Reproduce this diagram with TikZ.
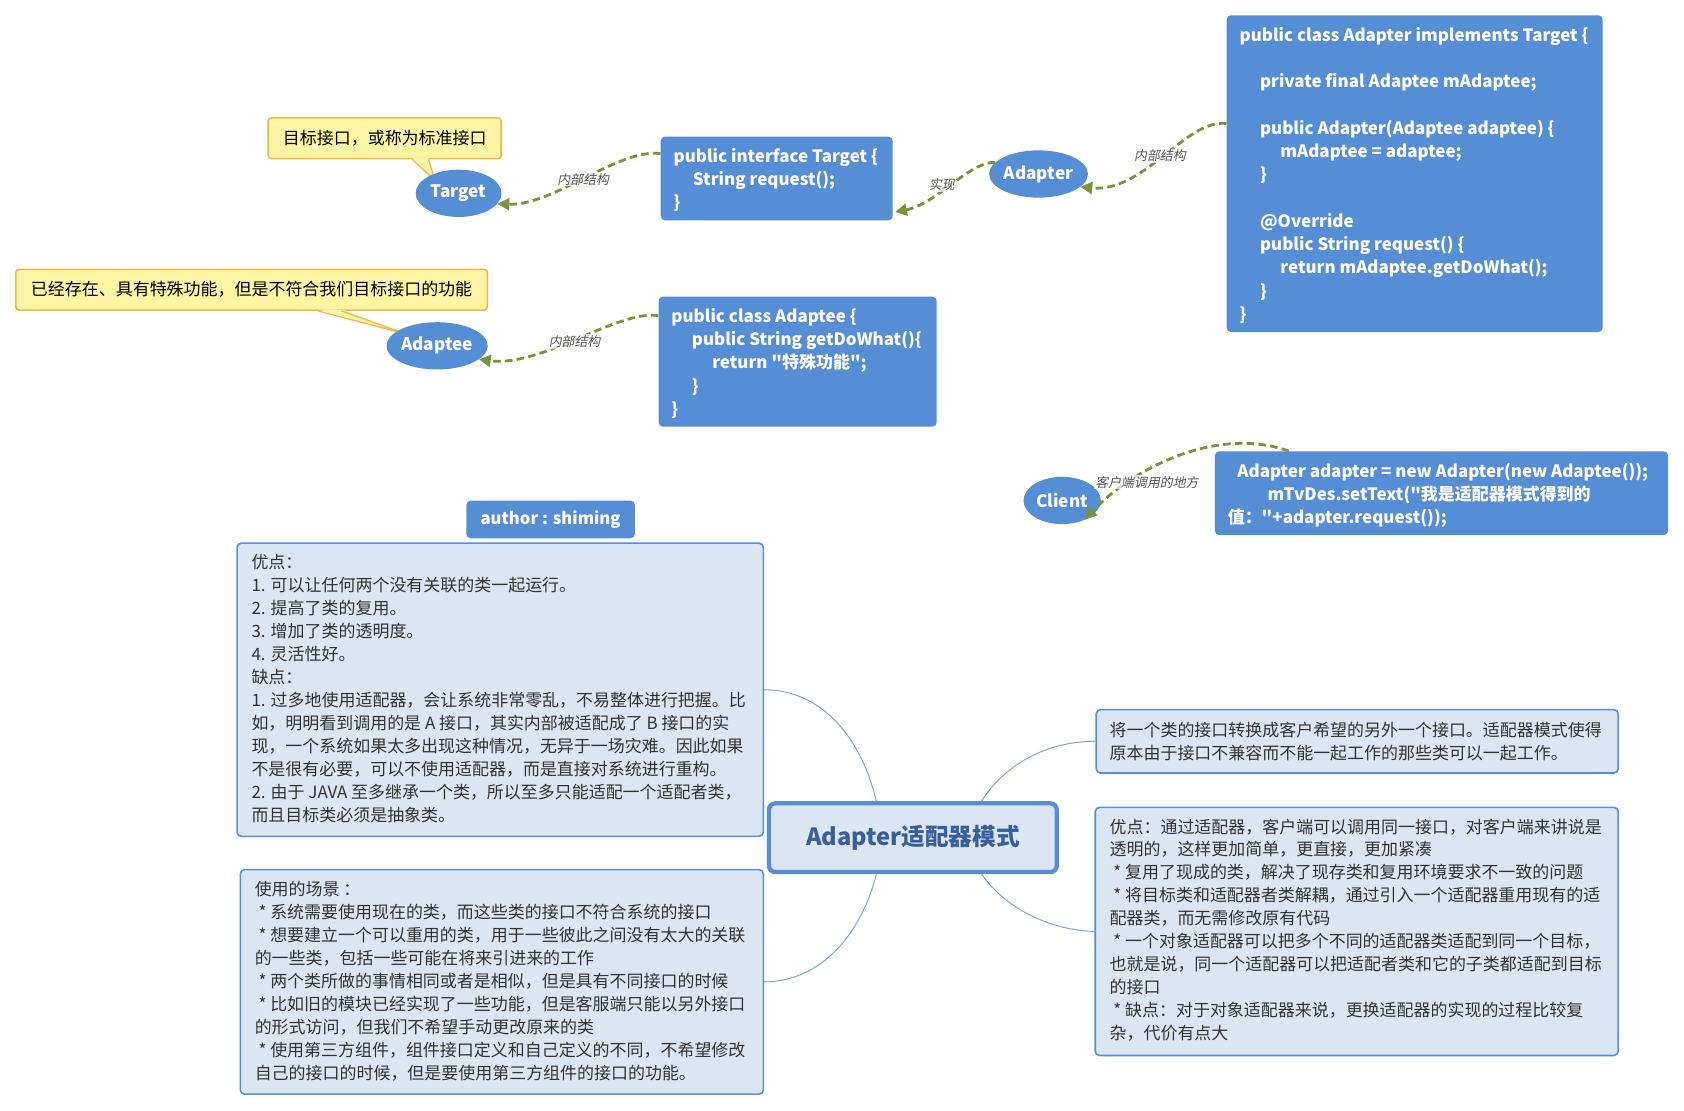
\documentclass[tikz,border=0pt]{standalone}
\usepackage{fontspec}
\setmainfont{Noto Sans CJK SC}
\newfontfamily\slfont{Noto Sans CJK SC}[FakeSlant=0.2]
\newfontfamily\codefont{Noto Sans CJK SC}
\usetikzlibrary{arrows.meta,shapes.geometric,calc}
\definecolor{nodeblue}{HTML}{558ED5}
\definecolor{lightbox}{HTML}{DCE6F2}
\definecolor{boxline}{HTML}{5B8FD4}
\definecolor{linkblue}{HTML}{7AA3DA}
\definecolor{dgreen}{HTML}{77933C}
\definecolor{calloutfill}{HTML}{FFF5A5}
\definecolor{calloutline}{HTML}{F2B84B}
\definecolor{titleblue}{HTML}{365F9C}
\definecolor{bodytext}{HTML}{333333}
\definecolor{labelgray}{HTML}{555555}
\tikzset{
  codebox/.style={fill=nodeblue, rounded corners=4pt, inner sep=0, anchor=north west},
  codetext/.style={text=white, font=\codefont\bfseries\fontsize{15.8}{21.6}\selectfont, align=left, inner sep=0, anchor=north west},
  topic/.style={ellipse, fill=nodeblue, text=white, font=\bfseries\fontsize{16}{18}\selectfont, inner sep=0},
  notebox/.style={fill=lightbox, draw=boxline, line width=1.5pt, rounded corners=4pt, anchor=north west, inner sep=0},
  notetext/.style={text=bodytext, font=\fontsize{15.8}{21.4}\selectfont, align=left, inner sep=0, anchor=north west},
  callout/.style={fill=calloutfill, draw=calloutline, line width=1.5pt, rounded corners=3pt, anchor=north west, inner sep=0, text=black, font=\fontsize{15.8}{18}\selectfont},
  link/.style={draw=linkblue, line width=0.9pt},
  rel/.style={draw=dgreen, line width=2.6pt, dash pattern=on 7pt off 4pt, -{Triangle[length=11pt,width=11pt]}},
  rellabel/.style={font=\slfont\fontsize{12}{13}\selectfont, text=labelgray, fill=white, fill opacity=0.7, text opacity=1, inner sep=1pt}
}
\begin{document}
\begin{tikzpicture}[x=1pt,y=-1pt]
\useasboundingbox[fill=white] (0,0) rectangle (1568,1033.6);

% callouts
\node[callout, minimum width=217pt, minimum height=38pt] (tgtNote) at (249,109) {目标接口，或称为标准接口};
\node[callout, minimum width=439pt, minimum height=38pt] (adtNote) at (14,250) {已经存在、具有特殊功能，但是不符合我们目标接口的功能};
\fill[calloutfill] ($(tgtNote.south west)+(135,-1.5)$) -- (405,168) -- ($(tgtNote.south west)+(150,-1.5)$) -- cycle;
\draw[calloutline, line width=1.2pt] ($(tgtNote.south west)+(135,0)$) -- (405,168) -- ($(tgtNote.south west)+(150,0)$);
\fill[calloutfill] ($(adtNote.south west)+(282,-1.5)$) -- (378,311) -- ($(adtNote.south west)+(304,-1.5)$) -- cycle;
\draw[calloutline, line width=1.2pt] ($(adtNote.south west)+(282,0)$) -- (378,311) -- ($(adtNote.south west)+(304,0)$);

% ellipses
\node[topic, minimum width=80pt, minimum height=44pt] (target) at (427,180) {Target};
\node[topic, minimum width=92pt, minimum height=44pt] (adapter) at (967,162) {Adapter};
\node[topic, minimum width=92pt, minimum height=44pt] (adaptee) at (407,322) {Adaptee};
\node[topic, minimum width=72pt, minimum height=44pt] (client) at (989,466) {Client};

% code boxes
\node[codebox, minimum width=216pt, minimum height=78pt] (tgtBox) at (615,127) {};
\node[codetext] (tgtTxt) at (627,138) {public interface Target \{\\\hspace*{18pt}String request();\\\}};
\node[codebox, minimum width=350pt, minimum height=295pt] (adapterBox) at (1142,14) {};
\node[codetext, font=\codefont\bfseries\fontsize{15.8}{21.67}\selectfont] (adapterTxt) at (1154,25) {public class Adapter implements Target \{\\\mbox{}\\
\hspace*{19pt}private final Adaptee mAdaptee;\\\mbox{}\\
\hspace*{19pt}public Adapter(Adaptee adaptee) \{\\
\hspace*{38pt}mAdaptee = adaptee;\\
\hspace*{19pt}\}\\\mbox{}\\
\hspace*{19pt}@Override\\
\hspace*{19pt}public String request() \{\\
\hspace*{38pt}return mAdaptee.getDoWhat();\\
\hspace*{19pt}\}\\
\}};
\node[codebox, minimum width=259pt, minimum height=121pt] (adapteeBox) at (613,276) {};
\node[codetext] (adapteeTxt) at (625,287) {public class Adaptee \{\\
\hspace*{19pt}public String getDoWhat()\{\\
\hspace*{38pt}return "特殊功能";\\
\hspace*{19pt}\}\\
\}};
\node[codebox, minimum width=422pt, minimum height=78pt] (clientBox) at (1131,420) {};
\node[codetext] (clientTxt) at (1143,431) {\hspace*{9pt}Adapter adapter = new Adapter(new Adaptee());\\
\hspace*{37pt}mTvDes.setText("我是适配器模式得到的\\
值："+adapter.request());};
\node[codebox, minimum width=157pt, minimum height=35pt, text=white, font=\bfseries\fontsize{15.5}{18}\selectfont] (author) at (434,466) {author : shiming};

% note boxes
\node[notebox, minimum width=490pt, minimum height=273pt] (prosBox) at (220,505) {};
\node[notetext] (prosTxt) at (234,516) {优点：\\
1. 可以让任何两个没有关联的类一起运行。\\
2. 提高了类的复用。\\
3. 增加了类的透明度。\\
4. 灵活性好。\\
缺点：\\
1. 过多地使用适配器，会让系统非常零乱，不易整体进行把握。比\\
如，明明看到调用的是 A 接口，其实内部被适配成了 B 接口的实\\
现，一个系统如果太多出现这种情况，无异于一场灾难。因此如果\\
不是很有必要，可以不使用适配器，而是直接对系统进行重构。\\
2. 由于 JAVA 至多继承一个类，所以至多只能适配一个适配者类，\\
而且目标类必须是抽象类。};
\node[notebox, minimum width=487pt, minimum height=209pt] (useBox) at (223,809) {};
\node[notetext] (useTxt) at (237,820) {使用的场景 ：\\
\ * 系统需要使用现在的类，而这些类的接口不符合系统的接口\\
\ * 想要建立一个可以重用的类，用于一些彼此之间没有太大的关联\\
的一些类，包括一些可能在将来引进来的工作\\
\ * 两个类所做的事情相同或者是相似，但是具有不同接口的时候\\
\ * 比如旧的模块已经实现了一些功能，但是客服端只能以另外接口\\
的形式访问，但我们不希望手动更改原来的类\\
\ * 使用第三方组件，组件接口定义和自己定义的不同，不希望修改\\
自己的接口的时候，但是要使用第三方组件的接口的功能。};
\node[notebox, minimum width=486pt, minimum height=59pt] (defBox) at (1020,660) {};
\node[notetext] (defTxt) at (1033,672) {将一个类的接口转换成客户希望的另外一个接口。适配器模式使得\\
原本由于接口不兼容而不能一起工作的那些类可以一起工作。};
\node[notebox, minimum width=487pt, minimum height=231pt] (advBox) at (1019,751) {};
\node[notetext] (advTxt) at (1033,762) {优点：通过适配器，客户端可以调用同一接口，对客户端来讲说是\\
透明的，这样更加简单，更直接，更加紧凑\\
\ * 复用了现成的类，解决了现存类和复用环境要求不一致的问题\\
\ * 将目标类和适配器者类解耦，通过引入一个适配器重用现有的适\\
配器类，而无需修改原有代码\\
\ * 一个对象适配器可以把多个不同的适配器类适配到同一个目标，\\
也就是说，同一个适配器可以把适配者类和它的子类都适配到目标\\
的接口\\
\ * 缺点：对于对象适配器来说，更换适配器的实现的过程比较复\\
杂，代价有点大};

% central topic
\node[fill=lightbox, draw=nodeblue, line width=4pt, rounded corners=6pt, anchor=north west, inner sep=0,
  minimum width=268pt, minimum height=64pt, text=titleblue, font=\bfseries\fontsize{22}{24}\selectfont] (center) at (714,746) {Adapter适配器模式};

% thin links
\draw[link] ($(center.north west)+(102,0)$) .. controls (800,680) and (760,642) .. (prosBox.east);
\draw[link] ($(center.south west)+(102,0)$) .. controls (800,876) and (760,914) .. (useBox.east);
\draw[link] ($(center.north east)+(-72,0)$) .. controls (935,712) and (975,690) .. (defBox.west);
\draw[link] ($(center.south east)+(-72,0)$) .. controls (935,844) and (975,866) .. (advBox.west);

% green relations
\draw[rel] ($(tgtBox.north west)+(0,16)$) .. controls (575,138) and (515,192) .. (target.-15);
\draw[rel] (adapter.165) .. controls (903,150) and (872,190) .. ($(tgtBox.south east)+(2,-8)$);
\draw[rel] ($(adapterBox.north west)+(0,101)$) .. controls (1105,110) and (1065,180) .. (adapter.-17);
\draw[rel] ($(adapteeBox.north west)+(0,18)$) .. controls (575,288) and (505,342) .. (adaptee.-18);
\draw[rel] ($(clientBox.north west)+(69,0)$) .. controls (1130,395) and (1050,440) .. (client.-40);

% relation labels
\node[rellabel] (lbl1) at (543,167) {内部结构};
\node[rellabel] (lbl2) at (877,172) {实现};
\node[rellabel] (lbl3) at (1080,145) {内部结构};
\node[rellabel] (lbl4) at (535,318) {内部结构};
\node[rellabel] (lbl5) at (1068,449) {客户端调用的地方};
\end{tikzpicture}
\end{document}
